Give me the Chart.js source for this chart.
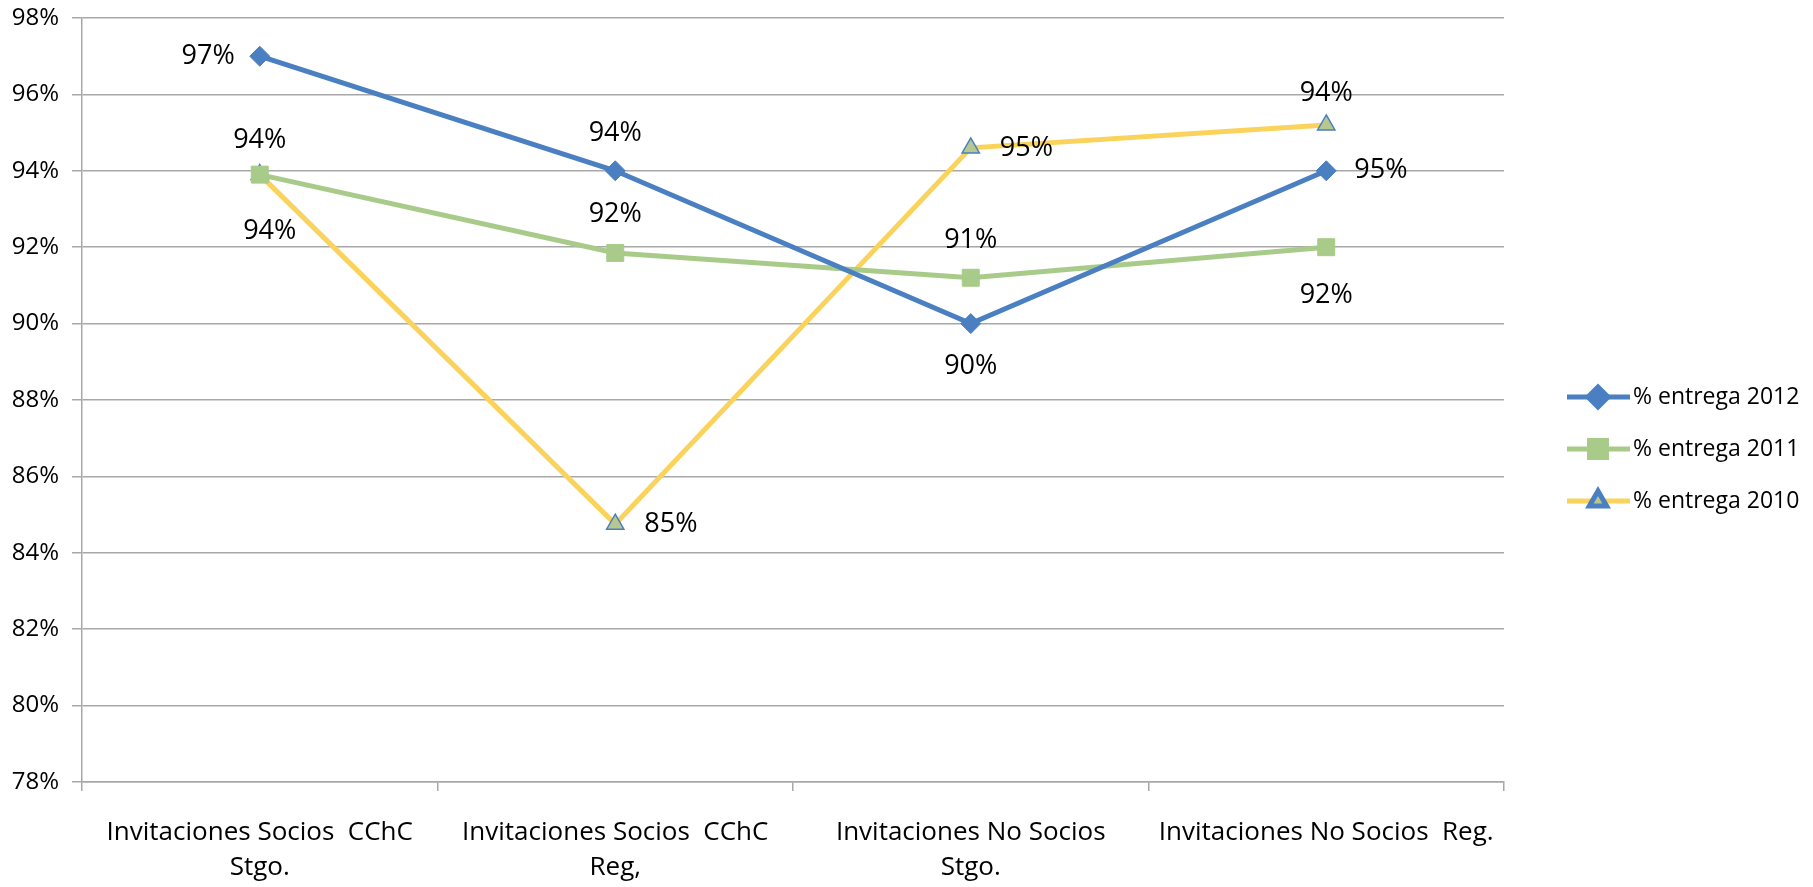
<!DOCTYPE html>
<html>
<head>
<meta charset="utf-8">
<script src="https://cdn.jsdelivr.net/npm/chart.js@4/dist/chart.umd.min.js"></script>
<style>
  html, body { margin: 0; padding: 0; background: #fff; }
  #wrap { width: 1813px; height: 887px; }
</style>
</head>
<body>
<div id="wrap"><canvas id="myChart"></canvas></div>
<script>
const categories = [
    ["Invitaciones Socios  CChC", "Stgo."],
    ["Invitaciones Socios  CChC", "Reg,"],
    ["Invitaciones No Socios", "Stgo."],
    "Invitaciones No Socios  Reg."
]
const seriesNames = ["% entrega 2012", "% entrega 2011", "% entrega 2010"]
const entrega2012 = [97, 94, 90, 94]
const entrega2011 = [93.9, 91.85, 91.2, 92]
const entrega2010 = [93.9, 84.75, 94.6, 95.2]
// labels as printed on the original chart
const labels2012 = ["97%", "94%", "90%", "95%"]
const labels2011 = ["94%", "92%", "91%", "92%"]
const labels2010 = ["94%", "85%", "95%", "94%"]
const yTicks = [78, 80, 82, 84, 86, 88, 90, 92, 94, 96, 98]

const labelFont = '27px "Open Sans"'
const legendFont = '23px "Open Sans"'
const gridColor = '#a8a8a8'

// where each data label sits relative to its point
const placements = [
    [['left', 25], ['above', 37], ['below', 43], ['right', 28]],
    [['above', 34], ['above', 39], ['above', 37], ['below', 48]],
    [['below', 57, 10], ['right', 29], ['right', 29], ['above', 32]]
]
const pointLabels = [labels2012, labels2011, labels2010]

const dataLabelPlugin = {
    id: 'dataLabels',
    afterDatasetsDraw(chart) {
        const ctx = chart.ctx
        ctx.save()
        ctx.font = labelFont
        ctx.fillStyle = '#000'
        chart.data.datasets.forEach((ds, i) => {
            const meta = chart.getDatasetMeta(i)
            meta.data.forEach((pt, j) => {
                const [side, d, dx] = placements[i][j]
                let x = pt.x + (dx || 0), y = pt.y
                ctx.textBaseline = 'middle'
                if (side === 'left') { ctx.textAlign = 'right'; x -= d }
                else if (side === 'right') { ctx.textAlign = 'left'; x += d }
                else if (side === 'above') { ctx.textAlign = 'center'; y -= d }
                else { ctx.textAlign = 'center'; y += d }
                ctx.fillText(pointLabels[i][j], x, y)
            })
        })
        ctx.restore()
    }
}

const legendPlugin = {
    id: 'sideLegend',
    afterDraw(chart) {
        const ctx = chart.ctx
        const x0 = chart.chartArea.right + 63
        const ys = [397, 449, 501]
        ctx.save()
        chart.data.datasets.forEach((ds, i) => {
            const y = ys[i]
            ctx.strokeStyle = ds.borderColor
            ctx.lineWidth = ds.borderWidth
            ctx.beginPath()
            ctx.moveTo(x0, y)
            ctx.lineTo(x0 + 63, y)
            ctx.stroke()
            ctx.fillStyle = ds.pointBackgroundColor
            ctx.strokeStyle = ds.pointBorderColor
            Chart.helpers.drawPoint(ctx, {
                pointStyle: ds.pointStyle,
                radius: ds.pointRadius,
                rotation: 0,
                borderWidth: ds.pointBorderWidth
            }, x0 + 31, y)
            ctx.fillStyle = '#000'
            ctx.font = legendFont
            ctx.textAlign = 'left'
            ctx.textBaseline = 'middle'
            ctx.fillText(ds.label, x0 + 66, y)
        })
        ctx.restore()
    }
}

const ctx1 = document.getElementById('myChart').getContext('2d')

const myChart = new Chart(ctx1, {
    type: 'line',
    data: {
        labels: categories,
        datasets: [{
            label: seriesNames[0],
            data: entrega2012,
            borderColor: '#4a7fc1',
            borderWidth: 5,
            pointStyle: 'rectRot',
            pointRadius: 10,
            pointBackgroundColor: '#4a7fc1',
            pointBorderColor: '#4a7fc1',
            pointBorderWidth: 1
        }, {
            label: seriesNames[1],
            data: entrega2011,
            borderColor: '#a9cb8a',
            borderWidth: 5,
            pointStyle: 'rect',
            pointRadius: 12,
            pointBackgroundColor: '#a9cb8a',
            pointBorderColor: '#a9cb8a',
            pointBorderWidth: 1
        }, {
            label: seriesNames[2],
            data: entrega2010,
            borderColor: '#fad35c',
            borderWidth: 5,
            pointStyle: 'triangle',
            pointRadius: 10,
            pointBackgroundColor: '#b6c78f',
            pointBorderColor: '#4a7fc1',
            pointBorderWidth: 1.5
        }]
    },
    options: {
        responsive: true,
        maintainAspectRatio: false,
        animation: false,
        layout: { padding: { top: 0, right: 309, left: 0, bottom: 0 } },
        plugins: {
            legend: { display: false },
            tooltip: { enabled: false }
        },
        scales: {
            x: {
                offset: true,
                grid: {
                    offset: true,
                    drawOnChartArea: false,
                    drawTicks: true,
                    tickLength: 9,
                    color: gridColor,
                    lineWidth: 1.5
                },
                border: { color: gridColor, width: 1.5 },
                ticks: {
                    color: '#000',
                    font: { family: 'Open Sans', size: 26, lineHeight: 1.35 },
                    padding: 24,
                    maxRotation: 0,
                    autoSkip: false
                },
                afterFit: (scale) => { scale.height = 105 }
            },
            y: {
                min: 78,
                max: 98,
                afterBuildTicks: (scale) => { scale.ticks = yTicks.map(v => ({ value: v })) },
                grid: {
                    color: gridColor,
                    lineWidth: 1.5,
                    tickLength: 10
                },
                border: { color: gridColor, width: 1.5 },
                ticks: {
                    color: '#000',
                    font: { family: 'Open Sans', size: 24 },
                    padding: 13,
                    callback: (v) => v + '%'
                },
                afterFit: (scale) => {
                    scale.width = 82
                    scale.paddingTop = 18
                }
            }
        }
    },
    plugins: [dataLabelPlugin, legendPlugin]
})
</script>
</body>
</html>
